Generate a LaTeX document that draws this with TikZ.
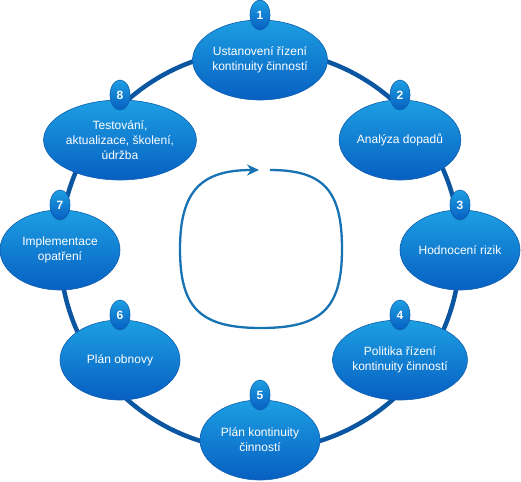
\documentclass[tikz,border=0pt]{standalone}
\usepackage{fontspec}
\setmainfont{Liberation Sans}
\usetikzlibrary{shapes.geometric,arrows.meta}
\definecolor{ringblue}{HTML}{0B56A0}
\definecolor{eltop}{HTML}{1D9FE2}
\definecolor{elbot}{HTML}{075FC2}
\definecolor{eledge}{HTML}{0E5FB0}
\definecolor{loopblue}{HTML}{1772B4}
\tikzset{
  stage/.style={ellipse, minimum width=120pt, minimum height=80pt, inner sep=0pt,
    top color=eltop, bottom color=elbot, draw=eledge, line width=0.6pt,
    text=white, align=center, font=\fontsize{12}{15}\selectfont},
  num/.style={ellipse, minimum width=20pt, minimum height=30pt, inner sep=0pt,
    top color=eltop, bottom color=elbot, draw=eledge, line width=0.6pt,
    text=white, font=\fontsize{12}{14}\selectfont\bfseries},
  ring/.style={draw=ringblue, line width=4.5pt},
  loop/.style={draw=loopblue, line width=2.3pt, -{Stealth[length=12pt,width=11pt]}}
}
\begin{document}
\begin{tikzpicture}[x=1pt,y=-1pt]
\useasboundingbox (0,0) rectangle (521,481);
\coordinate (c) at (260,250);
\draw[ring] (c) circle (200);
% inner loop arrow
\coordinate (ls) at (270,170);
\coordinate (lr) at (342,249);
\coordinate (lb) at (261,328);
\coordinate (ll) at (180,249);
\coordinate (le) at (259,170);
\draw[loop] (ls) .. controls (324,170) and (342,191) .. (lr)
  .. controls (342,308) and (322,328) .. (lb)
  .. controls (200,328) and (180,308) .. (ll)
  .. controls (180,190) and (202,170) .. (le);
% stages
\node[stage] (s1) at (260,60) {Ustanovení řízení\\kontinuity činností};
\node[stage] (s2) at (400,140) {Analýza dopadů};
\node[stage] (s3) at (460,250) {Hodnocení rizik};
\node[stage] (s4) at (400,360) {Politika řízení\\kontinuity činností};
\node[stage] (s5) at (260,440) {Plán kontinuity\\činností};
\node[stage] (s6) at (120,360) {Plán obnovy};
\node[stage] (s7) at (60,250) {Implementace\\opatření};
\node[stage] (s8) at (120,140) {Testování,\\aktualizace, školení,\\údržba};
% numbers
\node[num] (n1) at (260,15) {1};
\node[num] (n2) at (400,95) {2};
\node[num] (n3) at (460,205) {3};
\node[num] (n4) at (400,315) {4};
\node[num] (n5) at (260,395) {5};
\node[num] (n6) at (120,315) {6};
\node[num] (n7) at (60,205) {7};
\node[num] (n8) at (120,95) {8};
\end{tikzpicture}
\end{document}
